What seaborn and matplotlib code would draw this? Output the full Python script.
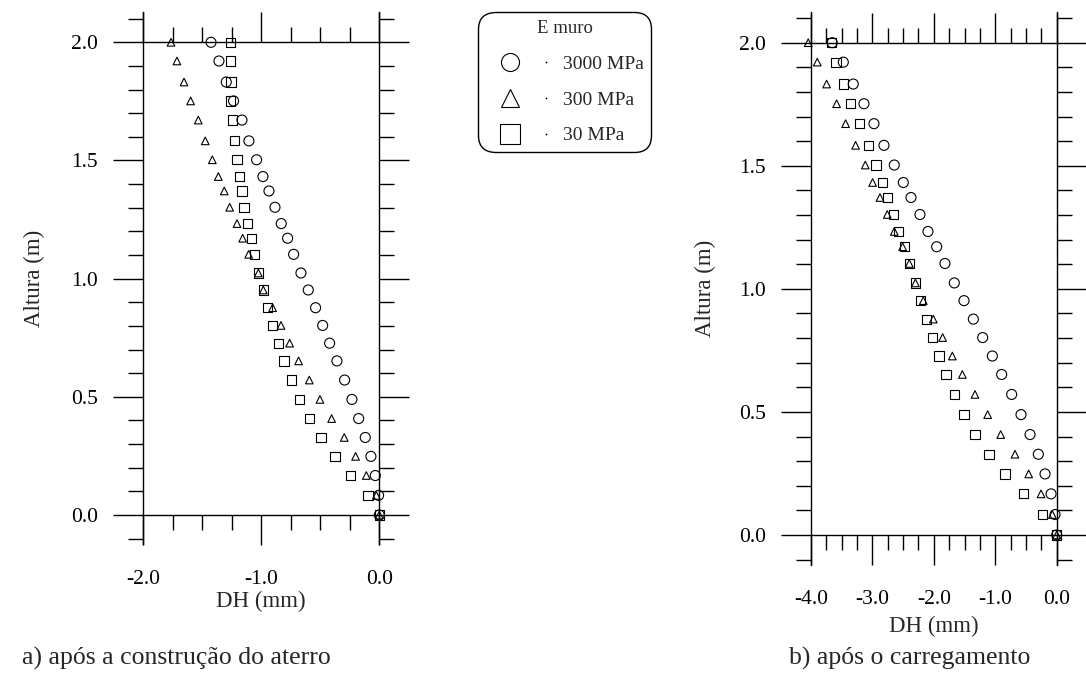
import numpy as np
import pandas as pd
import matplotlib
matplotlib.use("Agg")
import matplotlib.pyplot as plt
import seaborn as sns
from matplotlib.ticker import MultipleLocator, FixedLocator, FormatStrFormatter
from matplotlib.lines import Line2D
from matplotlib.legend_handler import HandlerBase

# ---------------- data ----------------
altura = [0.0, 0.083, 0.167, 0.248, 0.328, 0.408, 0.489, 0.571, 0.652, 0.727,
          0.802, 0.877, 0.952, 1.024, 1.103, 1.171, 1.233, 1.302, 1.371, 1.432,
          1.503, 1.583, 1.671, 1.752, 1.832, 1.921, 2.0]

series_labels = ["3000 MPa", "300 MPa", "30 MPa"]

# a) após a construção do aterro
dh_a_3000 = [0, -0.006, -0.034, -0.071, -0.119, -0.175, -0.232, -0.294, -0.359, -0.421,
             -0.480, -0.540, -0.602, -0.664, -0.726, -0.777, -0.831, -0.884, -0.935, -0.986,
             -1.040, -1.105, -1.164, -1.235, -1.297, -1.359, -1.426]
dh_a_300 = [0, -0.025, -0.110, -0.201, -0.297, -0.404, -0.503, -0.593, -0.684, -0.760,
            -0.833, -0.904, -0.983, -1.025, -1.107, -1.158, -1.206, -1.268, -1.314, -1.364,
            -1.415, -1.475, -1.534, -1.599, -1.655, -1.715, -1.765]
dh_a_30 = [0, -0.096, -0.246, -0.376, -0.494, -0.593, -0.678, -0.746, -0.808, -0.853,
           -0.904, -0.949, -0.983, -1.025, -1.056, -1.085, -1.116, -1.147, -1.164, -1.186,
           -1.206, -1.226, -1.246, -1.260, -1.257, -1.263, -1.263]

# b) após o carregamento
dh_b_3000 = [0, -0.027, -0.092, -0.190, -0.299, -0.434, -0.581, -0.733, -0.896, -1.048,
             -1.205, -1.357, -1.509, -1.667, -1.819, -1.954, -2.096, -2.226, -2.372, -2.497,
             -2.644, -2.812, -2.975, -3.138, -3.312, -3.474, -3.654]
dh_b_300 = [0, -0.071, -0.255, -0.456, -0.679, -0.912, -1.124, -1.330, -1.536, -1.699,
            -1.857, -2.009, -2.172, -2.300, -2.400, -2.508, -2.644, -2.758, -2.877, -2.997,
            -3.116, -3.274, -3.437, -3.583, -3.746, -3.898, -4.045]
dh_b_30 = [0, -0.228, -0.543, -0.841, -1.102, -1.330, -1.509, -1.667, -1.802, -1.916,
           -2.020, -2.117, -2.215, -2.300, -2.400, -2.481, -2.573, -2.660, -2.752, -2.839,
           -2.943, -3.067, -3.214, -3.355, -3.474, -3.594, -3.665]

xticks_a = [-2.0, -1.0, 0.0]
xticks_b = [-4.0, -3.0, -2.0, -1.0, 0.0]
yticks = [0.0, 0.5, 1.0, 1.5, 2.0]

caption_a = "a) após a construção do aterro"
caption_b = "b) após o carregamento"

# ---------------- style ----------------
sns.set_theme(style="white")
plt.rcParams["font.family"] = ["Liberation Serif", "DejaVu Serif"]
plt.rcParams["axes.unicode_minus"] = False
plt.rcParams["axes.edgecolor"] = "black"
plt.rcParams["xtick.color"] = "black"
plt.rcParams["ytick.color"] = "black"

W, H = 1086, 688
fig = plt.figure(figsize=(W / 100, H / 100), dpi=100)


def px_axes(l, t, r, b):
    return fig.add_axes([l / W, 1 - b / H, (r - l) / W, (b - t) / H])


axA = px_axes(143.3, 12.3, 379.3, 544.3)
axB = px_axes(811.0, 12.3, 1056.7, 565.0)

markers = {"3000 MPa": ("o", 52), "300 MPa": ("^", 30), "30 MPa": ("s", 44)}


def draw_panel(ax, series):
    frames = []
    for lab, vals in zip(series_labels, series):
        frames.append(pd.DataFrame({"DH": vals, "Altura": altura, "E": lab}))
    df = pd.concat(frames, ignore_index=True)
    for lab in series_labels:
        mk, s = markers[lab]
        sub = df[df["E"] == lab]
        sns.scatterplot(data=sub, x="DH", y="Altura", marker=mk, s=s,
                        facecolors="none", edgecolor="black", linewidth=0.8,
                        ax=ax, clip_on=False, zorder=3)


draw_panel(axA, [dh_a_3000, dh_a_300, dh_a_30])
draw_panel(axB, [dh_b_3000, dh_b_300, dh_b_30])


def style_axes(ax, xlim, ylim, xticks, xlab_y, ylab_x):
    ax.set_xlim(*xlim)
    ax.set_ylim(*ylim)
    ax.set_facecolor("white")
    ax.grid(False)
    ax.spines["top"].set_position(("data", 2.0))
    ax.spines["bottom"].set_position(("data", 0.0))
    for sp in ax.spines.values():
        sp.set_visible(True)
        sp.set_color("black")
        sp.set_linewidth(1.0)
    ax.xaxis.set_major_locator(FixedLocator(xticks))
    ax.xaxis.set_minor_locator(MultipleLocator(0.25))
    ax.yaxis.set_major_locator(FixedLocator(yticks))
    ax.yaxis.set_minor_locator(MultipleLocator(0.1))
    ax.xaxis.set_major_formatter(FormatStrFormatter("%.1f"))
    ax.yaxis.set_major_formatter(FormatStrFormatter("%.1f"))
    ax.tick_params(which="both", direction="out", top=True, right=True, bottom=True, left=True,
                   labeltop=False, labelright=False, width=1.0, color="black")
    ax.tick_params(which="major", length=21.6, labelsize=15.5)
    ax.tick_params(which="minor", length=10.8)
    ax.tick_params(axis="x", which="major", pad=18)
    ax.tick_params(axis="y", which="major", pad=11)
    ax.set_xlabel("DH (mm)", fontsize=16.5)
    ax.set_ylabel("Altura (m)", fontsize=16.5)
    ax.xaxis.set_label_coords(0.5, xlab_y)
    ax.xaxis.label.set_verticalalignment("center")
    ax.yaxis.set_label_coords(ylab_x, 0.5)
    ax.yaxis.label.set_verticalalignment("center")


# label positions converted from pixel targets to axes fractions
style_axes(axA, (-2.0, 0.0), (-0.124, 2.127), xticks_a,
           (544.3 - 601) / 532.0, (34 - 143.3) / 236.0)
style_axes(axB, (-4.0, 0.0), (-0.122, 2.1235), xticks_b,
           (565.0 - 626) / 552.7, (705 - 811.0) / 245.7)


# ---------------- legend ----------------
class MarkerDotHandler(HandlerBase):
    def create_artists(self, legend, orig_handle, xdescent, ydescent, width, height,
                       fontsize, trans):
        y = height / 2 - ydescent
        m = Line2D([-xdescent + 0.33 * width], [y], linestyle="none",
                   marker=orig_handle.get_marker(), markersize=orig_handle.get_markersize(),
                   markerfacecolor="none", markeredgecolor="black", markeredgewidth=0.8)
        d = Line2D([-xdescent + 0.80 * width], [y], linestyle="none", marker="o",
                   markersize=1.3, markerfacecolor="black", markeredgecolor="black",
                   markeredgewidth=0)
        m.set_transform(trans)
        d.set_transform(trans)
        return [m, d]


legend_marker_sizes = {"3000 MPa": ("o", 13), "300 MPa": ("^", 13), "30 MPa": ("s", 14.4)}
handles = [Line2D([], [], linestyle="none", marker=legend_marker_sizes[l][0],
                  markersize=legend_marker_sizes[l][1]) for l in series_labels]
leg = fig.legend(handles=handles, labels=series_labels, handler_map={Line2D: MarkerDotHandler()},
                 title="E muro", loc="upper left", bbox_to_anchor=(478 / W, 1 - 12 / H),
                 bbox_transform=fig.transFigure, borderaxespad=0, frameon=True, fancybox=True,
                 fontsize=14, title_fontsize=13.5, handlelength=3.85, handleheight=0.7,
                 handletextpad=0.1, labelspacing=0.94, borderpad=0.4)
frame = leg.get_frame()
frame.set_edgecolor("black")
frame.set_linewidth(1.0)
frame.set_facecolor("white")
frame.set_alpha(1.0)
frame.set_boxstyle("round,pad=0,rounding_size=0.9")

# ---------------- captions ----------------
fig.text(22 / W, 1 - 665 / H, caption_a, ha="left", va="baseline", fontsize=18.5)
fig.text(910 / W, 1 - 665 / H, caption_b, ha="center", va="baseline", fontsize=18.5)

fig.savefig("out.png", dpi=100, facecolor="white")
